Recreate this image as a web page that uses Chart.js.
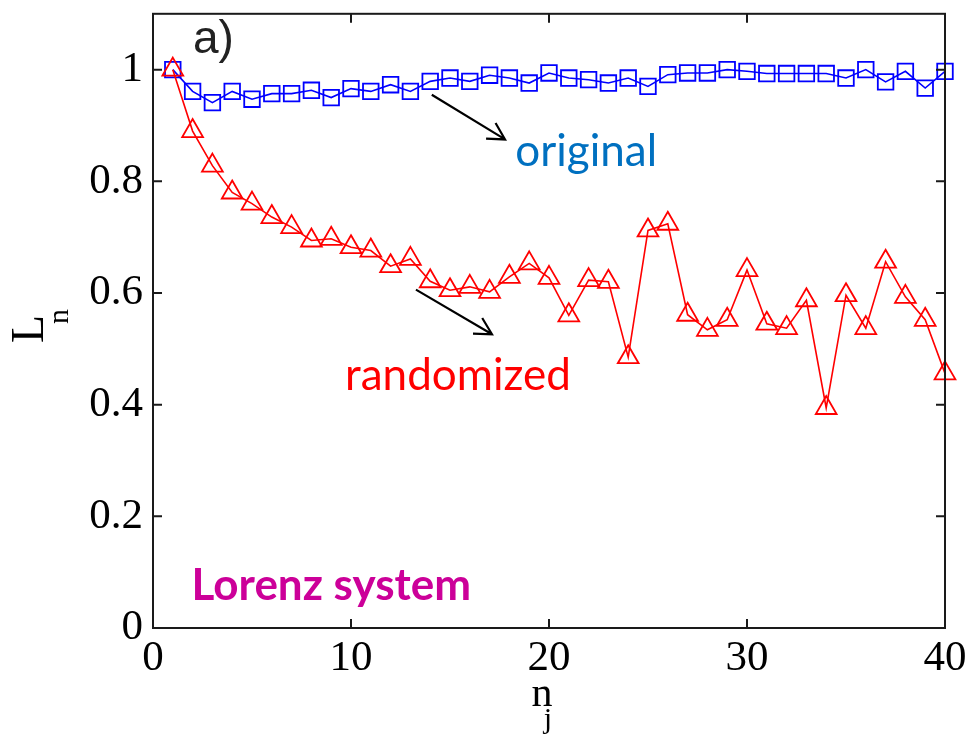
<!DOCTYPE html>
<html>
<head>
<meta charset="utf-8">
<script src="https://cdn.jsdelivr.net/npm/chart.js@4/dist/chart.umd.min.js"></script>
<style>
html,body{margin:0;padding:0;background:#fff;}
#wrap{width:972px;height:735px;position:relative;}
</style>
</head>
<body>
<div id="wrap"><canvas id="c" width="972" height="735"></canvas></div>
<script>
// ---- data ----
const nj = [1,2,3,4,5,6,7,8,9,10,11,12,13,14,15,16,17,18,19,20,21,22,23,24,25,26,27,28,29,30,31,32,33,34,35,36,37,38,39,40];
const originalL = [1.0,0.961,0.941,0.961,0.947,0.957,0.957,0.963,0.950,0.966,0.961,0.973,0.961,0.979,0.985,0.979,0.990,0.985,0.976,0.994,
                   0.985,0.982,0.976,0.985,0.970,0.991,0.994,0.994,1.0,0.997,0.993,0.993,0.993,0.993,0.985,1.0,0.978,0.997,0.967,0.997];
const randomizedL = [1.0,0.890,0.828,0.780,0.760,0.736,0.718,0.694,0.697,0.682,0.676,0.648,0.661,0.621,0.605,0.611,0.602,0.629,0.653,0.627,
                     0.560,0.623,0.620,0.485,0.712,0.724,0.561,0.534,0.552,0.641,0.545,0.537,0.587,0.394,0.596,0.537,0.656,0.593,0.552,0.456];
const xTicks = [0,10,20,30,40];
const yTicks = [0,0.2,0.4,0.6,0.8,1];

const serif = "'Liberation Serif','Times New Roman',serif";

const decor = {
  id:'decor',
  afterDraw(chart){
    const ctx = chart.ctx, a = chart.chartArea;
    const xs = chart.scales.x, ys = chart.scales.y;
    ctx.save();
    // frame
    ctx.strokeStyle = '#1a1a1a';
    ctx.lineWidth = 2;
    ctx.strokeRect(a.left, a.top, a.right - a.left, a.bottom - a.top);
    // inward ticks
    const tl = 9;
    ctx.beginPath();
    xTicks.forEach(v => {
      const px = xs.getPixelForValue(v);
      ctx.moveTo(px, a.bottom); ctx.lineTo(px, a.bottom - tl);
      ctx.moveTo(px, a.top); ctx.lineTo(px, a.top + tl);
    });
    yTicks.forEach(v => {
      const py = ys.getPixelForValue(v);
      ctx.moveTo(a.left, py); ctx.lineTo(a.left + tl, py);
      ctx.moveTo(a.right, py); ctx.lineTo(a.right - tl, py);
    });
    ctx.stroke();

    // arrows (in data coordinates)
    function arrow(x1,y1,x2,y2){
      const p1 = [xs.getPixelForValue(x1), ys.getPixelForValue(y1)];
      const p2 = [xs.getPixelForValue(x2), ys.getPixelForValue(y2)];
      const ang = Math.atan2(p2[1]-p1[1], p2[0]-p1[0]);
      const h = 19, sp = 0.5;
      ctx.strokeStyle = '#000';
      ctx.lineWidth = 2.2;
      ctx.beginPath();
      ctx.moveTo(p1[0], p1[1]); ctx.lineTo(p2[0], p2[1]);
      ctx.moveTo(p2[0] - h*Math.cos(ang - sp), p2[1] - h*Math.sin(ang - sp));
      ctx.lineTo(p2[0], p2[1]);
      ctx.lineTo(p2[0] - h*Math.cos(ang + sp), p2[1] - h*Math.sin(ang + sp));
      ctx.stroke();
    }
    arrow(14.08, 0.955, 17.78, 0.875);
    arrow(13.28, 0.606, 17.12, 0.526);

    // annotation texts
    ctx.textBaseline = 'alphabetic';
    ctx.textAlign = 'left';
    ctx.fillStyle = '#222';
    ctx.font = "46px 'Liberation Sans',Arial,sans-serif";
    ctx.fillText('a)', 193, 53);

    ctx.fillStyle = '#0070C0';
    ctx.font = "44px Lato,'Open Sans',sans-serif";
    ctx.fillText('original', xs.getPixelForValue(18.3), ys.getPixelForValue(0.828));

    ctx.fillStyle = '#FF0000';
    ctx.fillText('randomized', xs.getPixelForValue(9.7), ys.getPixelForValue(0.427));

    ctx.fillStyle = '#CC0099';
    ctx.font = "bold 44px Lato,'Open Sans',sans-serif";
    ctx.fillText('Lorenz system', xs.getPixelForValue(1.95), ys.getPixelForValue(0.05));

    // axis titles
    ctx.fillStyle = '#000';
    ctx.font = "42px " + serif;
    ctx.textAlign = 'center';
    const cx = (a.left + a.right)/2;
    ctx.fillText('n', cx - 7, 706);
    ctx.font = "30px " + serif;
    ctx.fillText('j', cx - 1, 728);

    ctx.save();
    ctx.translate(43, 343);
    ctx.rotate(-Math.PI/2);
    ctx.textAlign = 'left';
    ctx.font = "46px " + serif;
    ctx.fillText('L', 0, 0);
    ctx.font = "30px " + serif;
    ctx.fillText('n', 19, 25);
    ctx.restore();

    ctx.restore();
  }
};

const bg = {
  id:'bg',
  beforeDraw(chart){
    const ctx = chart.ctx;
    ctx.save(); ctx.fillStyle = '#fff'; ctx.fillRect(0,0,chart.width,chart.height); ctx.restore();
  }
};

new Chart(document.getElementById('c'), {
  type: 'line',
  data: {
    datasets: [
      {
        label: 'randomized',
        data: nj.map((x,i) => ({x: x, y: randomizedL[i]})),
        borderColor: '#FF0000',
        backgroundColor: 'rgba(0,0,0,0)',
        borderWidth: 1.6,
        pointStyle: 'triangle',
        pointRadius: 12,
        pointBorderWidth: 1.8,
        pointBorderColor: '#FF0000',
        pointBackgroundColor: 'rgba(0,0,0,0)',
        tension: 0,
        clip: false
      },
      {
        label: 'original',
        data: nj.map((x,i) => ({x: x, y: originalL[i]})),
        borderColor: '#0000FF',
        backgroundColor: 'rgba(0,0,0,0)',
        borderWidth: 1.6,
        pointStyle: 'rect',
        pointRadius: 11,
        pointBorderWidth: 1.8,
        pointBorderColor: '#0000FF',
        pointBackgroundColor: 'rgba(0,0,0,0)',
        tension: 0,
        clip: false
      }
    ]
  },
  options: {
    responsive: false,
    animation: false,
    devicePixelRatio: 1,
    layout: { padding: { left: 0, right: 27, top: 9, bottom: 0 } },
    plugins: { legend: { display: false }, tooltip: { enabled: false } },
    scales: {
      x: {
        type: 'linear', min: 0, max: 40,
        afterBuildTicks: s => { s.ticks = xTicks.map(v => ({value: v})); },
        afterFit: s => { s.height = 107; s.paddingLeft = 0; s.paddingRight = 0; },
        grid: { display: false, drawTicks: false },
        border: { display: false },
        ticks: { color: '#000', padding: 5, maxRotation: 0, font: { family: serif, size: 43 } }
      },
      y: {
        type: 'linear', min: 0, max: 1.1,
        afterBuildTicks: s => { s.ticks = yTicks.map(v => ({value: v})); },
        afterFit: s => { s.width = 153; s.paddingTop = 0; s.paddingBottom = 0; },
        grid: { display: false, drawTicks: false },
        border: { display: false },
        ticks: { color: '#000', padding: 10, font: { family: serif, size: 43 },
                 callback: v => String(Math.round(v*10)/10) }
      }
    }
  },
  plugins: [bg, decor]
});
</script>
</body>
</html>
